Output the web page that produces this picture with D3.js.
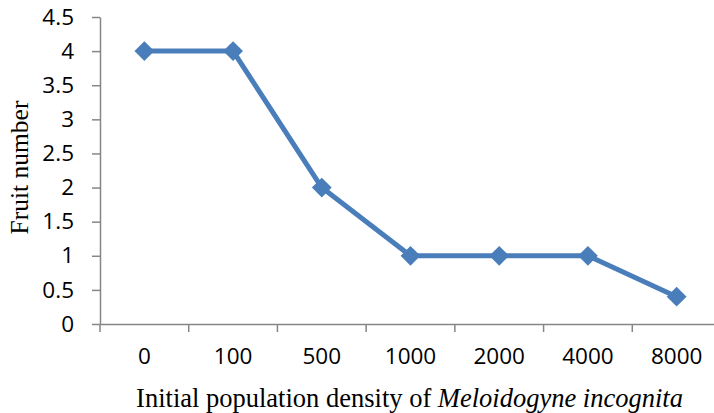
<!DOCTYPE html>
<html>
<head>
<meta charset="utf-8">
<script src="https://cdn.jsdelivr.net/npm/d3@7"></script>
<style>
  html, body { margin: 0; padding: 0; background: #fff; }
  svg { display: block; }
</style>
</head>
<body>
<svg id="chart" width="714" height="413"></svg>
<script>
const categories = ["0", "100", "500", "1000", "2000", "4000", "8000"];
const fruitNumber = [4, 4, 2, 1, 1, 1, 0.4];
const yTicks = [0, 0.5, 1, 1.5, 2, 2.5, 3, 3.5, 4, 4.5];

(function () {
const svg = d3.select("#chart");
const mLeft = 100, mRight = 721, mTop = 17, mBottom = 324;

const x = d3.scaleBand().domain(categories).range([mLeft, mRight]).padding(0);
const y = d3.scaleLinear().domain([0, 4.5]).range([mBottom, mTop]);

const axisColor = "#868686";
const tickFont = "'Open Sans', 'Noto Sans', sans-serif";
const tickSize = 22.5;

// Y axis
const yAxis = svg.append("g").attr("transform", `translate(${mLeft},0)`)
  .call(d3.axisLeft(y).tickValues(yTicks).tickFormat(d3.format("")).tickSize(8).tickSizeOuter(0).tickPadding(18));
yAxis.select(".domain").attr("stroke", axisColor).attr("stroke-width", 1.5);
yAxis.selectAll(".tick line").attr("stroke", axisColor).attr("stroke-width", 1.5);
yAxis.selectAll(".tick text").attr("font-family", tickFont).attr("font-size", tickSize).attr("fill", "#000");

// X axis
const xAxis = svg.append("g").attr("transform", `translate(0,${mBottom})`)
  .call(d3.axisBottom(x).tickSize(0).tickPadding(24));
xAxis.select(".domain").attr("stroke", axisColor).attr("stroke-width", 1.5);
xAxis.selectAll(".tick text").attr("font-family", tickFont).attr("font-size", tickSize).attr("fill", "#000");
const boundaries = categories.map(c => x(c)).concat([x(categories[categories.length - 1]) + x.bandwidth()]);
xAxis.selectAll(".bt").data(boundaries).enter().append("line")
  .attr("x1", d => d).attr("x2", d => d).attr("y1", 0).attr("y2", 8)
  .attr("stroke", axisColor).attr("stroke-width", 1.5);

// Line
const color = "#4a7ebb";
const cx = c => x(c) + x.bandwidth() / 2;
const line = d3.line().x((d, i) => cx(categories[i])).y(d => y(d));
svg.append("path").datum(fruitNumber)
  .attr("d", line).attr("fill", "none").attr("stroke", color)
  .attr("stroke-width", 5).attr("stroke-linejoin", "round");

// Diamond markers
svg.selectAll(".pt").data(fruitNumber).enter().append("rect")
  .attr("x", -7).attr("y", -7).attr("width", 14).attr("height", 14)
  .attr("transform", (d, i) => `translate(${cx(categories[i])},${y(d)}) rotate(45)`)
  .attr("fill", color);

// Axis titles
svg.append("text")
  .attr("transform", `translate(28,167.5) rotate(-90)`)
  .attr("text-anchor", "middle")
  .attr("font-family", "'Liberation Serif', 'Times New Roman', serif")
  .attr("font-size", 25.5)
  .text("Fruit number");

const xt = svg.append("text")
  .attr("x", 409.5).attr("y", 407)
  .attr("text-anchor", "middle")
  .attr("font-family", "'Liberation Serif', 'Times New Roman', serif")
  .attr("font-size", 26.5);
xt.append("tspan").text("Initial population density of ");
xt.append("tspan").attr("font-style", "italic").text("Meloidogyne incognita");
})();
</script>
</body>
</html>
